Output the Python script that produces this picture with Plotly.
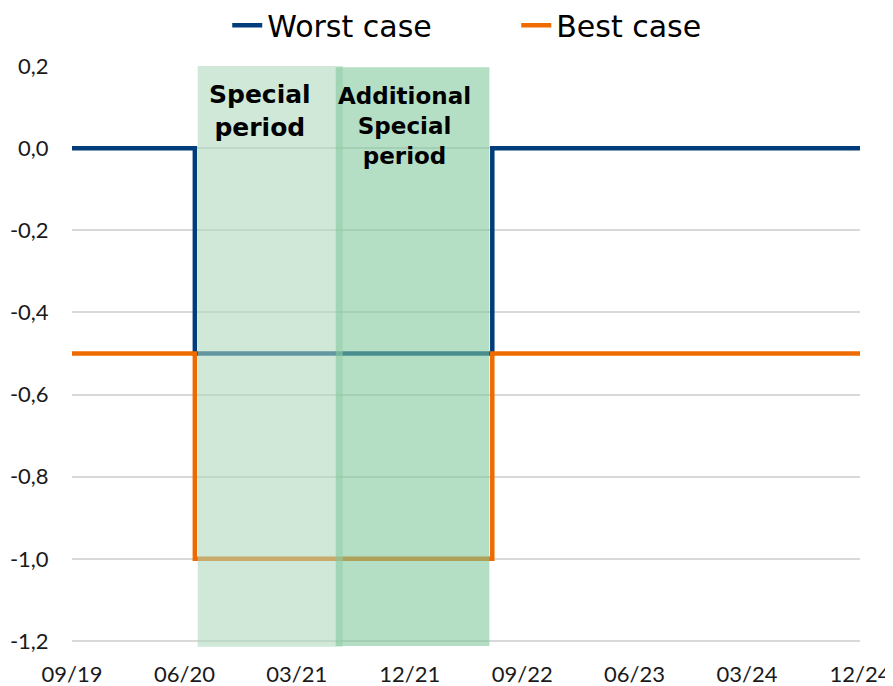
import plotly.graph_objects as go

# ---- data ----
worst_dates = ["2019-09-01", "2020-06-26", "2022-06-20", "2024-12-01"]
worst_vals = [0.0, -0.5, 0.0, 0.0]
best_dates = ["2019-09-01", "2020-06-26", "2022-06-20", "2024-12-01"]
best_vals = [-0.5, -1.0, -0.5, -0.5]

special_period = ["2020-07-03", "2021-06-21"]
additional_period = ["2021-06-04", "2022-06-13"]

tick_dates = ["2019-09-01", "2020-06-01", "2021-03-01", "2021-12-01",
              "2022-09-01", "2023-06-01", "2024-03-01", "2024-12-01"]
tick_labels = ["09/19", "06/20", "03/21", "12/21", "09/22", "06/23", "03/24", "12/24"]
y_ticks = [0.2, 0.0, -0.2, -0.4, -0.6, -0.8, -1.0, -1.2]
y_tick_labels = ["0,2", "0,0", "-0,2", "-0,4", "-0,6", "-0,8", "-1,0", "-1,2"]

TICK_FONT = "Lato"
TEXT_FONT = "DejaVu Sans"

fig = go.Figure()
fig.add_trace(go.Scatter(x=worst_dates, y=worst_vals, mode="lines", name="Worst case",
                         line=dict(color="#003d7a", width=4.5, shape="hv")))
fig.add_trace(go.Scatter(x=best_dates, y=best_vals, mode="lines", name="Best case",
                         line=dict(color="#ef6b00", width=4.5, shape="hv")))

fig.add_shape(type="rect", xref="x", yref="y", x0=special_period[0], x1=special_period[1],
              y0=-1.214, y1=0.2, fillcolor="rgba(172,215,188,0.58)", line_width=0, layer="above")
fig.add_shape(type="rect", xref="x", yref="y", x0=additional_period[0], x1=additional_period[1],
              y0=-1.212, y1=0.197, fillcolor="rgba(128,200,155,0.58)", line_width=0, layer="above")

fig.add_annotation(x="2020-12-01", y=0.09, xref="x", yref="y", showarrow=False,
                   text="<b>Special<br>period</b>", align="center",
                   font=dict(family=TEXT_FONT, size=25, color="#000000"))
fig.add_annotation(x="2021-11-18", y=0.053, xref="x", yref="y", showarrow=False,
                   text="<b>Additional<br>Special<br>period</b>", align="center",
                   font=dict(family=TEXT_FONT, size=23, color="#000000"))

# the page body adds an 8px offset; size the figure so the plot lands where it should
fig.update_layout(
    width=885, height=678,
    margin=dict(l=64, r=33, t=58, b=39, autoexpand=False),
    paper_bgcolor="white", plot_bgcolor="white",
    font=dict(family=TICK_FONT, size=22, color="#1a1a1a"),
    showlegend=True,
    legend=dict(orientation="h", x=0.197, xanchor="left", y=1.115, yanchor="top",
                entrywidth=244, entrywidthmode="pixels",
                font=dict(family=TEXT_FONT, size=30, color="#000000"),
                bgcolor="rgba(0,0,0,0)"),
    xaxis=dict(type="date", range=["2019-09-01", "2024-12-01"],
               tickmode="array", tickvals=tick_dates, ticktext=tick_labels,
               showgrid=False, zeroline=False, showline=False, automargin=False,
               ticks="outside", ticklen=8, tickcolor="rgba(0,0,0,0)",
               tickfont=dict(family=TICK_FONT, size=22, color="#1a1a1a")),
    yaxis=dict(range=[-1.2146, 0.2], tickmode="array", tickvals=y_ticks, ticktext=y_tick_labels,
               showgrid=True, gridcolor="#d9d9d9", gridwidth=1.5,
               zeroline=False, showline=False, automargin=False,
               ticks="outside", ticklen=18, tickcolor="rgba(0,0,0,0)",
               tickfont=dict(family=TICK_FONT, size=22, color="#1a1a1a")),
)

fig.write_html("out.html")
